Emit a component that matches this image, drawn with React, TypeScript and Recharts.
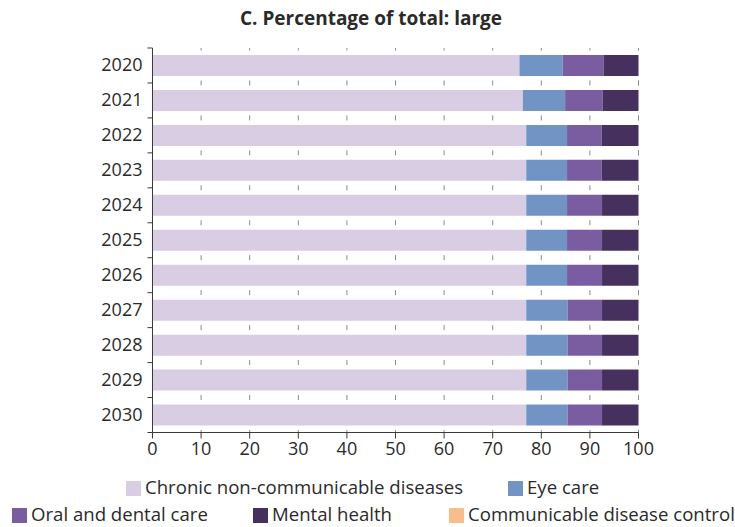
import React from "react";
import { BarChart, Bar, XAxis, YAxis, CartesianGrid, Legend } from "recharts";

const years = ["2020", "2021", "2022", "2023", "2024", "2025", "2026", "2027", "2028", "2029", "2030"];
const chronic = [75.5, 76.2, 76.9, 76.9, 76.9, 76.9, 76.9, 76.9, 76.9, 76.9, 76.9];
const eyeCare = [8.9, 8.7, 8.4, 8.4, 8.4, 8.4, 8.4, 8.5, 8.5, 8.5, 8.5];
const oralCare = [8.4, 7.7, 7.1, 7.1, 7.2, 7.2, 7.2, 7.1, 7.1, 7.1, 7.1];
const mentalHealth = [7.2, 7.4, 7.6, 7.6, 7.5, 7.5, 7.5, 7.5, 7.5, 7.5, 7.5];
const communicable = [0, 0, 0, 0, 0, 0, 0, 0, 0, 0, 0];
const xTicks = [0, 10, 20, 30, 40, 50, 60, 70, 80, 90, 100];

const series = [
  { key: "chronic", name: "Chronic non-communicable diseases", color: "#d8cde3" },
  { key: "eye", name: "Eye care", color: "#7294c5" },
  { key: "oral", name: "Oral and dental care", color: "#795da0" },
  { key: "mental", name: "Mental health", color: "#45305e" },
  { key: "comm", name: "Communicable disease control", color: "#f8bd8a" },
];

const data = years.map((y, i) => ({
  year: y,
  chronic: chronic[i],
  eye: eyeCare[i],
  oral: oralCare[i],
  mental: mentalHealth[i],
  comm: communicable[i],
}));

const FONT = "'Open Sans', sans-serif";
const TEXT = "#2a2a2a";
const AXIS = "#3a3a3a";

const YTick = (props: any) => {
  const { x, y, payload, index, visibleTicksCount } = props;
  const half = payload && typeof payload.offset === "number" && payload.offset > 0 ? payload.offset : 17.5;
  const x1 = x + 5;
  const x2 = x + 10;
  const isLast = index === (visibleTicksCount ?? years.length) - 1;
  return (
    <g>
      <text x={x} y={y} dy={6} textAnchor="end" fontSize={18} fontFamily={FONT} fill={TEXT}>
        {payload.value}
      </text>
      <line x1={x1} x2={x2} y1={y - half} y2={y - half} stroke={AXIS} strokeWidth={1} />
      {isLast ? <line x1={x1} x2={x2} y1={y + half} y2={y + half} stroke={AXIS} strokeWidth={1} /> : null}
    </g>
  );
};

const Swatch = ({ color }: { color: string }) => (
  <span style={{ display: "inline-block", width: 15, height: 15, background: color, marginRight: 4, verticalAlign: "-2px" }} />
);

const LegendContent = () => {
  const item = (s: any, left: number, top: number) => (
    <div key={s.key} style={{ position: "absolute", left, top, whiteSpace: "nowrap", fontSize: 18.6, lineHeight: "22px", color: TEXT, fontFamily: FONT }}>
      <Swatch color={s.color} />
      {s.name}
    </div>
  );
  return (
    <div style={{ position: "relative", width: 735, height: 54 }}>
      {item(series[0], 126, 0)}
      {item(series[1], 508, 0)}
      {item(series[2], 12, 27)}
      {item(series[3], 253, 27)}
      {item(series[4], 449, 27)}
    </div>
  );
};

export default function App() {
  return (
    <div style={{ position: "absolute", left: 0, top: 0, width: 735, height: 527, background: "#fff", fontFamily: FONT }}>
      <div style={{ position: "absolute", left: 0, width: 742, top: 5, textAlign: "center", fontSize: 19, fontWeight: 700, lineHeight: "26px", color: TEXT }}>
        C. Percentage of total: large
      </div>
      <BarChart
        width={735}
        height={527}
        data={data}
        layout="vertical"
        margin={{ top: 48, right: 96.5, bottom: 64.5, left: 0 }}
        barCategoryGap="20%"
      >
        <CartesianGrid horizontal={false} vertical={true} stroke="#8a8a8a" strokeDasharray="5 29.95" strokeDashoffset={2.5} />
        <XAxis
          type="number"
          domain={[0, 100]}
          ticks={xTicks}
          interval={0}
          height={30}
          axisLine={{ stroke: AXIS }}
          tickLine={{ stroke: AXIS }}
          tickSize={6}
          tickMargin={4}
          tick={{ fontSize: 18, fontFamily: FONT, fill: TEXT }}
        />
        <YAxis
          type="category"
          dataKey="year"
          width={152.5}
          axisLine={{ stroke: AXIS }}
          tickLine={false}
          tickSize={5}
          tickMargin={5}
          interval={0}
          tick={<YTick />}
        />
        <Legend
          verticalAlign="middle"
          align="center"
          layout="horizontal"
          content={<LegendContent />}
          wrapperStyle={{ left: 0, top: 476, width: 735, height: 54 }}
        />
        {series.map((s) => (
          <Bar key={s.key} dataKey={s.key} name={s.name} stackId="a" fill={s.color} isAnimationActive={false} />
        ))}
      </BarChart>
    </div>
  );
}
